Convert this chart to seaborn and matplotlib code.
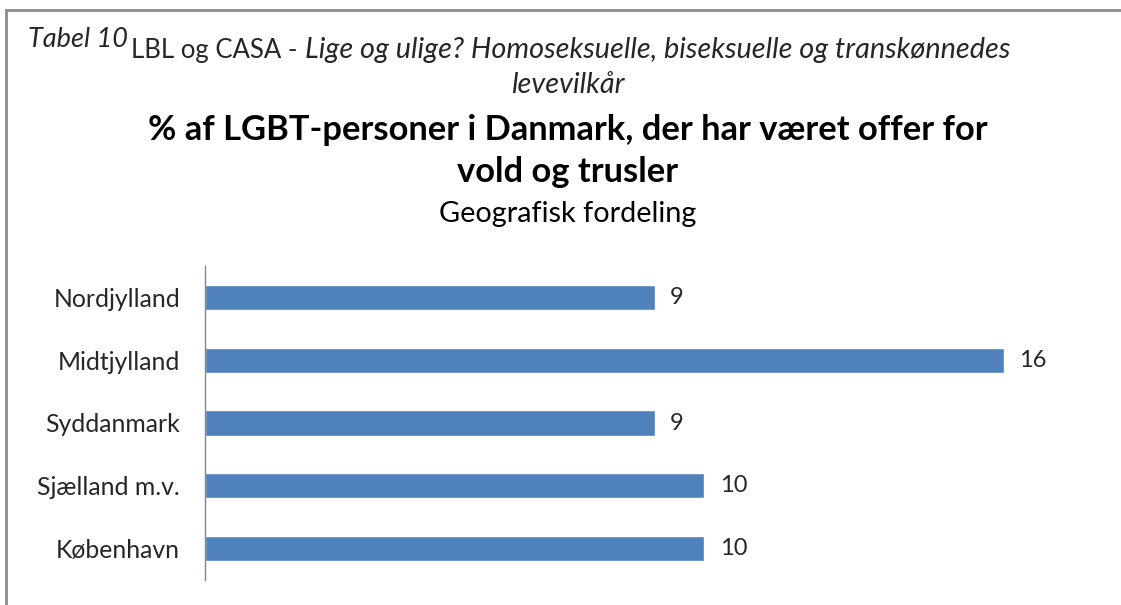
import matplotlib
matplotlib.use("Agg")
import matplotlib.pyplot as plt
import seaborn as sns
import pandas as pd
from matplotlib.patches import Rectangle

# Data
regions = ["Nordjylland", "Midtjylland", "Syddanmark", "Sjælland m.v.", "København"]
pct = [9, 16, 9, 10, 10]

df = pd.DataFrame({"region": regions, "pct": pct})

sns.set_style("white")
plt.rcParams["font.family"] = ["Lato", "DejaVu Sans"]

fig = plt.figure(figsize=(11.21, 6.05), dpi=100)
ax = fig.add_axes([205 / 1121, 25 / 605, 899 / 1121, 314 / 605])

sns.barplot(data=df, x="pct", y="region", color="#4F81BD", saturation=1,
            width=0.4, ax=ax)
ax.set_xlim(0, 18)
ax.set_ylim(4.5, -0.5)

# Value labels
for i, v in enumerate(pct):
    ax.annotate(str(v), xy=(v, i), xytext=(11, 0), textcoords="offset points",
                va="center", ha="left", fontsize=17, color="#262626")

ax.set_xlabel("")
ax.set_ylabel("")
ax.set_xticks([])
ax.tick_params(axis="y", length=0, pad=18, labelsize=17.8, labelcolor="#262626")
for s in ["top", "right", "bottom"]:
    ax.spines[s].set_visible(False)
ax.spines["left"].set_color("#868686")
ax.spines["left"].set_linewidth(1)

# Outer frame
fig.patches.append(Rectangle((6 / 1121, -0.05), 1.2, (605 - 10) / 605 + 0.05,
                             transform=fig.transFigure, fill=False,
                             edgecolor="#8c8c8c", linewidth=2))

# Header texts
fig.canvas.draw()
r = fig.canvas.get_renderer()
t1 = fig.text(28 / 1121, 1 - 47 / 605, "Tabel 10", fontsize=19.5, style="italic",
              color="#262626", va="baseline")
bb = t1.get_window_extent(r)
t2 = fig.text((bb.x1 + 3) / 1121, 1 - 58 / 605, "LBL og CASA - ", fontsize=18.5,
              color="#262626", va="baseline")
bb = t2.get_window_extent(r)
fig.text((bb.x1 + 1) / 1121, 1 - 58 / 605,
         "Lige og ulige? Homoseksuelle, biseksuelle og transkønnedes",
         fontsize=20.8, style="italic", color="#262626", va="baseline")
fig.text(568 / 1121, 1 - 93 / 605, "levevilkår", fontsize=20.8, style="italic",
         color="#262626", ha="center", va="baseline")

fig.text(568 / 1121, 1 - 140 / 605,
         "% af LGBT-personer i Danmark, der har været offer for",
         fontsize=24.8, fontweight="bold", color="black", ha="center", va="baseline")
fig.text(568 / 1121, 1 - 182 / 605, "vold og trusler",
         fontsize=24.8, fontweight="bold", color="black", ha="center", va="baseline")
fig.text(568 / 1121, 1 - 222 / 605, "Geografisk fordeling",
         fontsize=20.8, color="black", ha="center", va="baseline")

plt.savefig("out.png", dpi=100)
